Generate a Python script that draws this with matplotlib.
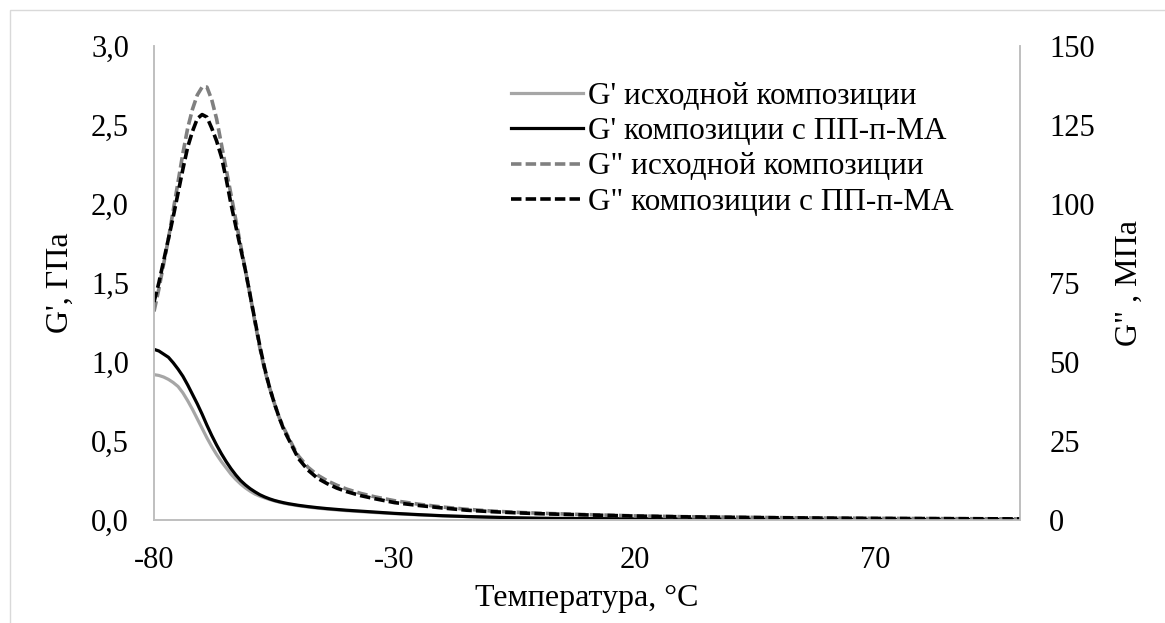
#!/usr/bin/env python3
import matplotlib
matplotlib.use('Agg')
import matplotlib.pyplot as plt
from matplotlib.patches import Rectangle
from matplotlib.ticker import FuncFormatter, FixedLocator

plt.rcParams['font.family'] = ['Liberation Serif', 'DejaVu Serif']
plt.rcParams['font.size'] = 22

# Temperature, °C
temp = [-80, -79, -78, -77, -76, -75, -74, -73, -72, -71, -70, -69, -68, -67,
        -66, -65, -64, -63, -62, -61, -60, -59, -58, -57, -56, -55, -54, -53,
        -52, -51, -50, -48, -46, -44, -42, -40, -37, -34, -30, -25, -20, -15,
        -10, -5, 0, 10, 20, 30, 40, 50, 60, 70, 80, 90, 100]

# G', GPa - base composition
g1_base = [0.92, 0.915, 0.905, 0.89, 0.87, 0.845, 0.805, 0.755, 0.70, 0.64,
           0.58, 0.52, 0.465, 0.415, 0.37, 0.33, 0.29, 0.257, 0.228, 0.203,
           0.182, 0.164, 0.151, 0.140, 0.130, 0.121, 0.113, 0.106, 0.100,
           0.095, 0.090, 0.082, 0.075, 0.069, 0.064, 0.059, 0.053, 0.047,
           0.040, 0.032, 0.026, 0.021, 0.016, 0.013, 0.010, 0.007, 0.005,
           0.004, 0.003, 0.003, 0.002, 0.002, 0.002, 0.001, 0.001]

# G', GPa - composition with PP-g-MA
g1_mod = [1.08, 1.07, 1.05, 1.03, 0.995, 0.955, 0.91, 0.855, 0.795, 0.735,
          0.67, 0.60, 0.535, 0.475, 0.42, 0.37, 0.325, 0.285, 0.25, 0.222,
          0.198, 0.178, 0.16, 0.146, 0.134, 0.124, 0.116, 0.109, 0.103,
          0.098, 0.093, 0.085, 0.078, 0.072, 0.067, 0.062, 0.056, 0.050,
          0.042, 0.034, 0.027, 0.022, 0.018, 0.014, 0.011, 0.009, 0.007,
          0.006, 0.005, 0.004, 0.004, 0.003, 0.003, 0.003, 0.002]

# G'', MPa - base composition
g2_base = [66, 73, 81, 89, 98, 107, 116, 124, 130, 134.5, 137, 137, 133,
           127, 119, 111, 103, 95, 87, 79, 71, 62.5, 54.5, 47.5, 42, 37,
           32.5, 29, 26, 23, 20.3, 16.7, 14.2, 12.4, 11.0, 9.8, 8.4, 7.3,
           6.1, 5.0, 4.1, 3.4, 2.85, 2.45, 2.15, 1.7, 1.3, 1.05, 0.9, 0.75,
           0.62, 0.52, 0.46, 0.4, 0.35]

# G'', MPa - composition with PP-g-MA
g2_mod = [69, 75, 82, 89, 96, 103.5, 111, 118, 123, 127, 128.3, 127.5, 124,
          120, 115, 108, 100, 93, 86, 79, 71, 63, 55, 48, 42, 37, 32.5,
          28.5, 25.5, 22.5, 19.5, 15.8, 13.2, 11.5, 10.1, 9.0, 7.7, 6.7,
          5.5, 4.6, 3.8, 3.1, 2.65, 2.3, 2.0, 1.6, 1.25, 1.0, 0.85, 0.7,
          0.6, 0.5, 0.45, 0.4, 0.35]

labels = ["G' исходной композиции",
          "G' композиции с ПП-п-МА",
          'G" исходной композиции',
          'G" композиции с ПП-п-МА']

x_ticks = [-80, -30, 20, 70]
left_ticks = [0.0, 0.5, 1.0, 1.5, 2.0, 2.5, 3.0]
right_ticks = [0, 25, 50, 75, 100, 125, 150]

W, H = 1165, 623
fig = plt.figure(figsize=(W / 100, H / 100), dpi=100)

# chart area border
fig.patches.append(Rectangle((10 / W, -0.2), 1.2, 1.2 - 10 / H,
                             transform=fig.transFigure, fill=False,
                             edgecolor='#D9D9D9', linewidth=1.0))

ax = fig.add_axes([154 / W, 1 - 520 / H, (1020 - 154) / W, (520 - 46) / H])
ax2 = ax.twinx()

ls_dash = (0, (2.9, 1.15))
h1, = ax.plot(temp, g1_base, color='#A6A6A6', lw=2.3, label=labels[0])
h2, = ax.plot(temp, g1_mod, color='black', lw=2.3, label=labels[1])
h3, = ax2.plot(temp, g2_base, color='#808080', lw=2.6, linestyle=ls_dash,
               dash_capstyle='butt', label=labels[2])
h4, = ax2.plot(temp, g2_mod, color='black', lw=2.6, linestyle=ls_dash,
               dash_capstyle='butt', label=labels[3])

ax.set_xlim(-80, 100)
ax.set_ylim(0, 3.0)
ax2.set_ylim(0, 150)
ax.xaxis.set_major_locator(FixedLocator(x_ticks))
ax.yaxis.set_major_locator(FixedLocator(left_ticks))
ax2.yaxis.set_major_locator(FixedLocator(right_ticks))
ax.yaxis.set_major_formatter(FuncFormatter(lambda v, p: f'{v:.1f}'.replace('.', ',')))
ax.xaxis.set_major_formatter(FuncFormatter(lambda v, p: f'{v:.0f}'))
ax2.yaxis.set_major_formatter(FuncFormatter(lambda v, p: f'{v:.0f}'))

for a in (ax, ax2):
    a.spines['top'].set_visible(False)
    for s in ('left', 'bottom', 'right'):
        a.spines[s].set_color('#BFBFBF')
        a.spines[s].set_linewidth(1.2)
    a.tick_params(length=0, labelsize=22)
ax.tick_params(axis='x', pad=19)
ax.tick_params(axis='y', pad=18)
ax2.tick_params(axis='y', pad=21)

ax.set_xlabel('Температура, °C', fontsize=23, labelpad=6)
ax.set_ylabel("G', ГПа", fontsize=23, labelpad=12)
ax2.set_ylabel('G" , МПа', fontsize=23, labelpad=14)

fig.legend(handles=[h1, h2, h3, h4], loc='upper left',
           bbox_to_anchor=(511 / W, 1 - 82 / H), bbox_transform=fig.transFigure,
           frameon=False, fontsize=22.5, handlelength=2.3, handletextpad=0.15,
           labelspacing=0.2, borderpad=0, borderaxespad=0)

fig.savefig('out.png', dpi=100)
